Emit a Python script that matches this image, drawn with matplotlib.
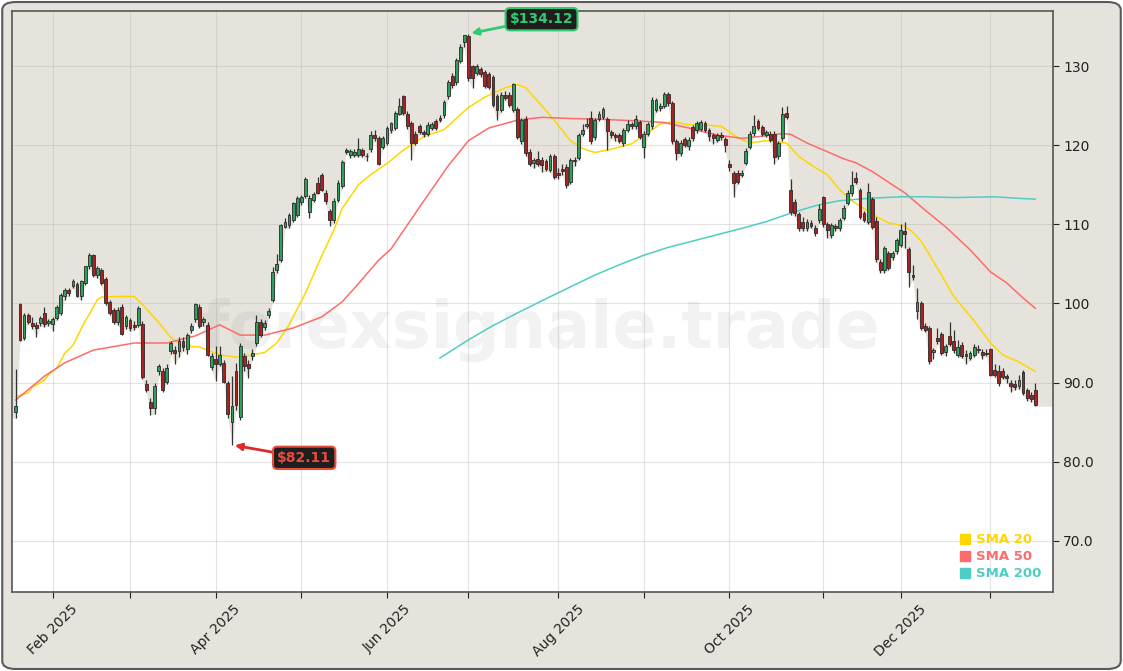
import numpy as np
import pandas as pd
import matplotlib
matplotlib.use("Agg")
import matplotlib.pyplot as plt
from matplotlib.lines import Line2D
from matplotlib.patches import FancyBboxPatch
from matplotlib.ticker import FuncFormatter

# trading days (NYSE calendar)
holidays = ["2025-02-17", "2025-04-18", "2025-05-26", "2025-06-19", "2025-07-04",
            "2025-09-01", "2025-11-27", "2025-12-25", "2026-01-01", "2026-01-19"]
dates = pd.bdate_range("2025-01-21", "2026-01-20", freq="C", holidays=holidays)

opens = [
    86.3, 99.95, 95.6, 98.55, 97.5, 97.3, 97.5, 98.85, 97.5, 97.35,
    98.15, 98.8, 100.9, 101.7, 102.2, 102.5, 100.9, 102.6, 104.7, 106.1,
    103.6, 104.2, 103.1, 100.2, 99.2, 97.7, 99.6, 97.2, 97.9, 97.3,
    97.3, 97.4, 89.85, 87.6, 86.8, 91.5, 91.4, 90.1, 94.05, 94.1,
    94.0, 95.3, 94.2, 96.7, 98.0, 99.5, 97.6, 97.3, 92.0, 93.0,
    92.4, 92.5, 89.9, 85.0, 91.4, 85.7, 93.3, 92.4, 93.3, 95.0,
    97.7, 97.0, 98.6, 100.5, 104.2, 105.5, 109.7, 109.9, 110.6, 111.2,
    112.9, 113.6, 111.6, 113.1, 115.3, 116.2, 114.0, 111.7, 110.5, 113.1,
    114.9, 119.4, 118.8, 118.8, 118.8, 119.4, 118.7, 119.5, 121.3, 120.9,
    119.8, 120.3, 121.9, 122.2, 124.0, 126.2, 124.0, 122.8, 121.5, 122.4,
    121.7, 121.5, 122.2, 123.1, 123.5, 123.8, 126.2, 128.8, 128.0, 130.7,
    133.1, 133.9, 130.0, 129.2, 129.65, 129.3, 129.0, 128.6, 126.2, 124.5,
    126.4, 126.4, 124.5, 124.55, 120.5, 123.4, 119.2, 117.8, 118.3, 118.2,
    118.0, 116.9, 118.6, 116.5, 117.0, 117.3, 115.4, 118.2, 118.4, 121.5,
    122.5, 123.5, 121.0, 123.4, 123.6, 123.35, 121.7, 121.3, 121.3, 120.3,
    122.0, 122.7, 122.4, 122.9, 119.75, 121.5, 122.4, 124.5, 124.7, 125.0,
    126.5, 125.3, 120.5, 119.0, 120.75, 119.9, 122.3, 121.9, 122.1, 122.8,
    121.9, 121.3, 120.7, 121.3, 120.75, 117.7, 116.5, 116.55, 116.3, 117.8,
    119.85, 121.6, 123.1, 122.3, 121.3, 121.5, 121.5, 118.6, 120.9, 124.05,
    114.4, 112.9, 111.3, 110.35, 109.5, 110.2, 109.6, 110.5, 113.5, 110.05,
    108.65, 109.8, 109.5, 110.8, 112.7, 113.95, 115.9, 114.3, 111.4, 110.35,
    113.2, 110.4, 105.3, 104.25, 106.4, 105.85, 106.6, 107.4, 109.2, 106.9,
    103.6, 99.1, 100.0, 97.2, 96.9, 93.9, 95.6, 96.1, 93.9, 95.95,
    95.2, 93.5, 94.8, 93.6, 93.1, 93.5, 94.3, 93.85, 93.7, 94.2,
    91.6, 91.5, 91.5, 90.8, 90.0, 89.85, 89.5, 91.3, 89.0, 88.45,
    89.0,
]
highs = [
    91.7, 100.1, 98.8, 98.8, 98.3, 97.6, 98.4, 99.5, 98.1, 98.3,
    99.8, 101.3, 101.9, 102.0, 103.1, 102.7, 103.0, 104.8, 106.4, 106.3,
    104.8, 104.5, 103.3, 100.5, 99.4, 99.6, 99.9, 98.6, 98.2, 97.8,
    99.7, 97.8, 90.3, 88.0, 89.9, 92.4, 91.8, 92.3, 95.3, 94.6,
    95.8, 95.7, 96.3, 97.5, 100.1, 99.9, 98.3, 97.6, 93.7, 94.6,
    94.6, 92.9, 90.2, 90.8, 92.5, 95.0, 93.8, 92.8, 94.2, 98.6,
    98.0, 97.9, 99.4, 104.6, 106.2, 110.0, 110.8, 111.4, 112.9, 113.6,
    113.7, 116.0, 113.7, 114.1, 116.0, 116.5, 114.3, 112.0, 113.3, 115.6,
    118.2, 119.7, 119.6, 119.5, 120.9, 119.7, 119.0, 121.8, 121.9, 121.2,
    121.2, 122.4, 123.0, 124.3, 126.0, 126.4, 124.3, 123.1, 121.8, 122.7,
    122.0, 122.9, 123.0, 123.4, 123.8, 125.8, 128.3, 129.1, 131.0, 132.8,
    134.0, 134.12, 130.2, 130.3, 129.9, 129.6, 129.3, 128.9, 126.5, 126.7,
    126.9, 126.7, 127.9, 124.8, 123.5, 123.7, 119.5, 118.4, 119.3, 118.5,
    118.3, 118.9, 118.9, 117.2, 117.7, 117.6, 118.4, 118.5, 121.6, 122.7,
    123.5, 124.3, 123.5, 124.4, 124.9, 123.6, 122.0, 121.6, 121.6, 122.2,
    123.2, 123.0, 123.9, 123.2, 121.8, 123.0, 126.1, 126.0, 125.3, 126.8,
    126.8, 125.6, 120.8, 120.7, 121.1, 121.0, 122.6, 123.1, 123.2, 123.1,
    122.2, 121.6, 121.6, 121.7, 121.1, 118.2, 116.8, 116.9, 116.9, 119.7,
    121.8, 123.9, 123.4, 122.6, 122.0, 121.8, 121.8, 120.6, 124.8, 124.97,
    115.8, 113.2, 111.6, 110.9, 110.7, 110.5, 109.9, 112.6, 113.6, 110.3,
    110.2, 110.1, 110.8, 112.4, 114.3, 116.7, 116.6, 114.6, 111.7, 115.3,
    113.5, 111.0, 105.6, 107.3, 106.7, 106.7, 108.3, 110.0, 110.3, 107.2,
    104.9, 101.9, 100.3, 97.5, 97.2, 94.4, 96.9, 96.4, 94.9, 97.6,
    96.6, 95.4, 95.1, 94.1, 94.0, 94.9, 94.7, 94.2, 94.2, 94.4,
    92.3, 92.2, 91.8, 91.1, 90.3, 90.3, 91.0, 91.6, 89.3, 88.8,
    89.9,
]
lows = [
    85.5, 95.2, 95.4, 97.4, 96.8, 95.8, 97.1, 97.0, 97.2, 96.5,
    97.9, 98.5, 100.5, 101.0, 102.0, 100.8, 100.4, 102.3, 104.4, 103.4,
    103.2, 102.3, 99.8, 98.5, 97.4, 97.3, 96.0, 96.8, 96.5, 96.6,
    97.0, 90.5, 88.8, 85.9, 86.0, 91.0, 88.8, 89.8, 93.6, 92.4,
    93.2, 94.0, 93.6, 96.3, 97.6, 96.9, 97.2, 93.3, 91.6, 90.2,
    92.1, 89.9, 85.5, 82.11, 86.5, 85.3, 91.5, 90.6, 92.9, 94.6,
    95.7, 96.6, 98.2, 100.2, 103.9, 105.2, 109.5, 109.5, 110.3, 110.9,
    112.5, 113.3, 110.8, 112.8, 113.8, 114.2, 112.6, 109.8, 110.2, 112.8,
    114.6, 118.9, 118.4, 118.5, 118.5, 118.5, 118.0, 119.2, 120.6, 117.5,
    119.5, 120.0, 121.6, 121.9, 123.8, 123.8, 122.1, 118.1, 120.0, 121.4,
    121.1, 121.2, 121.9, 121.9, 122.9, 123.5, 125.9, 127.3, 127.7, 130.4,
    132.4, 128.2, 127.2, 128.9, 128.7, 127.2, 127.1, 124.8, 123.2, 124.2,
    125.7, 124.8, 124.2, 120.8, 120.2, 118.7, 117.4, 117.1, 117.4, 116.6,
    116.7, 116.6, 115.7, 115.8, 116.2, 114.6, 115.1, 117.4, 118.1, 121.2,
    122.2, 120.2, 120.7, 123.1, 123.3, 119.4, 120.9, 120.5, 120.3, 119.9,
    121.7, 122.1, 122.1, 120.8, 118.4, 121.2, 122.1, 124.2, 124.4, 124.7,
    125.0, 120.2, 118.2, 118.7, 119.8, 119.4, 120.6, 121.6, 121.8, 121.7,
    120.6, 120.2, 120.4, 120.7, 119.2, 116.8, 113.5, 115.1, 116.0, 117.5,
    119.5, 121.2, 121.9, 121.2, 121.0, 120.4, 117.7, 118.3, 120.6, 123.3,
    111.2, 111.1, 109.2, 109.2, 109.2, 109.5, 108.6, 110.2, 109.7, 108.3,
    108.3, 109.2, 109.2, 110.5, 112.4, 113.6, 115.1, 110.7, 110.3, 110.0,
    109.4, 105.2, 103.9, 103.9, 104.2, 105.5, 106.3, 107.1, 107.0, 102.1,
    103.0, 98.0, 96.6, 96.4, 92.4, 93.0, 94.9, 93.5, 93.4, 94.6,
    93.8, 93.2, 93.1, 92.4, 92.8, 93.2, 93.8, 93.0, 93.3, 90.8,
    90.7, 89.6, 90.4, 89.9, 88.8, 89.1, 89.2, 88.4, 87.7, 87.6,
    87.0,
]
closes = [
    87.05, 95.4, 98.55, 97.7, 97.2, 96.9, 98.2, 97.4, 97.8, 98.0,
    99.6, 101.1, 101.7, 101.3, 102.9, 101.0, 102.8, 104.7, 106.1, 103.6,
    104.45, 102.6, 100.0, 98.8, 97.7, 99.2, 96.2, 98.3, 96.9, 97.0,
    99.4, 90.7, 89.1, 86.8, 89.6, 92.1, 89.0, 91.9, 95.05, 93.7,
    95.3, 94.5, 96.0, 97.1, 99.9, 97.2, 98.0, 93.5, 93.4, 92.3,
    93.5, 90.1, 86.0, 87.0, 87.1, 94.6, 92.1, 91.9, 93.7, 97.7,
    96.0, 97.5, 99.0, 104.0, 105.0, 109.9, 110.35, 111.2, 112.75, 113.4,
    113.5, 115.7, 113.4, 113.9, 114.0, 114.4, 113.0, 110.5, 113.0, 115.3,
    117.9, 119.2, 119.3, 119.2, 119.5, 118.8, 118.6, 121.3, 120.9, 117.7,
    120.9, 122.2, 122.8, 124.05, 125.0, 124.05, 122.4, 120.35, 120.3, 121.7,
    121.4, 122.6, 122.7, 122.2, 123.2, 125.5, 128.0, 127.6, 130.8, 132.5,
    133.95, 128.5, 128.5, 130.0, 129.0, 127.5, 127.4, 125.1, 124.5, 126.4,
    126.0, 125.1, 127.8, 121.1, 123.2, 119.0, 117.7, 118.1, 117.7, 117.5,
    117.0, 118.6, 116.0, 116.3, 116.8, 115.0, 118.1, 118.0, 121.3, 121.95,
    122.7, 120.5, 123.2, 124.0, 124.55, 121.85, 121.3, 121.1, 120.6, 121.95,
    122.7, 122.4, 123.35, 121.1, 121.5, 122.7, 125.8, 125.7, 125.0, 126.5,
    125.3, 120.5, 119.0, 120.35, 120.1, 120.7, 120.9, 122.8, 122.9, 122.0,
    121.2, 120.9, 121.3, 121.0, 120.0, 117.3, 115.2, 115.4, 116.55, 119.35,
    121.5, 122.4, 122.15, 121.5, 121.7, 120.7, 118.5, 120.25, 124.0, 123.6,
    111.6, 111.4, 109.5, 109.5, 110.35, 109.8, 108.95, 111.9, 110.0, 109.3,
    109.9, 109.5, 110.5, 112.05, 113.95, 115.0, 115.4, 111.0, 110.6, 114.15,
    109.7, 105.6, 104.25, 107.0, 104.5, 106.4, 108.0, 109.3, 108.8, 104.0,
    103.3, 100.25, 96.9, 96.7, 92.7, 94.1, 95.2, 93.8, 94.6, 94.85,
    94.1, 94.55, 93.4, 93.4, 93.7, 94.55, 94.1, 93.5, 93.6, 91.0,
    91.0, 89.9, 90.7, 90.55, 89.5, 89.4, 90.3, 88.65, 88.0, 87.9,
    87.2,
]

# moving averages (candle index, value)
sma20_idx = [0, 3, 4, 7, 8, 10, 12, 14, 17, 18, 20, 21, 25, 29, 31, 35, 38, 41, 45, 50,
             54, 58, 61, 64, 67, 71, 75, 78, 80, 84, 87, 91, 95, 100, 105, 108, 111, 115, 120, 123,
             125, 129, 132, 136, 139, 142, 146, 151, 155, 158, 161, 165, 169, 173, 177, 180, 184, 189, 192, 196,
             199, 202, 205, 208, 211, 214, 218, 220, 222, 224, 227, 230, 235, 239, 242, 246, 250]
sma20_val = [88.2, 88.7, 89.4, 90.3, 91.0, 91.8, 93.7, 94.7, 97.8, 98.6, 100.5, 100.8, 100.9, 100.9, 99.9, 97.6, 95.7, 94.6, 94.5, 93.5,
             93.2, 93.5, 93.8, 95.0, 97.3, 101.3, 106.0, 109.3, 112.0, 115.0, 116.3, 117.7, 119.4, 121.1, 122.0, 123.4, 124.8, 126.1, 127.3, 127.7,
             127.3, 125.0, 123.2, 120.6, 119.6, 119.1, 119.5, 120.2, 121.6, 122.7, 123.0, 122.6, 122.6, 122.4, 121.0, 120.3, 120.6, 120.3, 118.6, 117.2,
             116.3, 114.4, 113.0, 112.0, 111.0, 110.2, 109.8, 109.0, 107.9, 106.2, 103.6, 100.9, 97.8, 95.0, 93.5, 92.6, 91.4]
sma50_idx = [0, 7, 12, 19, 29, 37, 44, 50, 55, 61, 68, 75, 80, 84, 89, 92, 99, 106, 111, 116,
             123, 129, 136, 144, 152, 159, 165, 172, 178, 182, 188, 190, 194, 199, 203, 206, 210, 215, 218, 223,
             228, 234, 239, 243, 247, 250]
sma50_val = [87.8, 90.8, 92.5, 94.1, 95.0, 95.0, 95.9, 97.3, 96.0, 96.0, 96.9, 98.3, 100.2, 102.5, 105.5, 106.9, 112.2, 117.4, 120.6, 122.2,
             123.2, 123.55, 123.4, 123.3, 123.1, 122.9, 122.2, 121.3, 120.9, 121.1, 121.5, 121.4, 120.3, 119.2, 118.3, 117.8, 116.7, 115.0, 114.0, 111.8,
             109.7, 106.8, 104.0, 102.6, 100.7, 99.4]
sma200_idx = [104, 111, 117, 123, 130, 136, 142, 148, 154, 160, 166, 172, 178, 184, 191, 197, 202, 209, 217, 223,
              230, 240, 246, 250]
sma200_val = [93.1, 95.4, 97.2, 98.8, 100.6, 102.1, 103.6, 104.9, 106.1, 107.1, 107.9, 108.7, 109.5, 110.35, 111.6, 112.5, 113.0, 113.3, 113.5, 113.5,
              113.4, 113.5, 113.3, 113.2]

BG = "#e6e3dc"
UP = "#2ea05c"
DOWN = "#a82222"
C20, C50, C200 = "#FFD700", "#FF6B6B", "#4ECDC4"

n = len(dates)
x = np.arange(n)
o = np.array(opens)
h = np.array(highs)
l = np.array(lows)
c = np.array(closes)

fig = plt.figure(figsize=(11.23, 6.71), dpi=100)
fig.patch.set_facecolor("white")
fig.add_artist(FancyBboxPatch((0.002, 0.003), 0.996, 0.994,
                              boxstyle="round,pad=0,rounding_size=0.012",
                              transform=fig.transFigure, facecolor=BG,
                              edgecolor="#5a5a5a", lw=1.5, zorder=-10))

ax = fig.add_axes([0.0105, 0.1177, 0.927, 0.8659])
ax.set_facecolor("white")
x0, x1 = -1, n + 3.3
ymin, ymax = 63.5, 137.0

# shaded area above the lows
xf = np.concatenate([[x0], x, [x1]])
lf = np.concatenate([[l[0]], l, [l[-1]]])
ax.fill_between(xf, lf, ymax, color=BG, lw=0, zorder=0.4)

ax.text(0.508, 0.452, "forexsignale.trade", transform=ax.transAxes,
        fontsize=47, fontweight="bold", color="gray", alpha=0.1,
        ha="center", va="center", zorder=1)

# candles
up = c >= o
cols = np.where(up, UP, DOWN)
ax.vlines(x, l, h, color="#333333", lw=0.9, zorder=3)
ax.bar(x, np.maximum(np.abs(c - o), 0.12), bottom=np.minimum(o, c), width=0.7,
       color=cols, edgecolor="#2a2a2a", lw=0.6, zorder=4)

ax.plot(sma20_idx, sma20_val, color=C20, lw=1.1, zorder=2.5)
ax.plot(sma50_idx, sma50_val, color=C50, lw=1.1, zorder=2.5)
ax.plot(sma200_idx, sma200_val, color=C200, lw=1.1, zorder=2.5)

# high / low labels
imax = int(np.argmax(h))
imin = int(np.argmin(l))
ax.annotate("\\$%.2f" % h[imax], xy=(imax, h[imax]), xytext=(52.6, 10.5),
            textcoords="offset points", ha="center", va="center",
            fontsize=10, fontweight="bold", color="#2ecc71",
            bbox=dict(boxstyle="round,pad=0.3", fc="#1e1e1e", ec="#2ecc71", lw=1.5),
            arrowprops=dict(arrowstyle="-|>", color="#2ecc71", lw=2, shrinkA=0, shrinkB=2),
            zorder=10)
ax.annotate("\\$%.2f" % l[imin], xy=(imin, l[imin]), xytext=(52, -9.3),
            textcoords="offset points", ha="center", va="center",
            fontsize=10, fontweight="bold", color="#e74c3c",
            bbox=dict(boxstyle="round,pad=0.3", fc="#1e1e1e", ec="#e74c3c", lw=1.5),
            arrowprops=dict(arrowstyle="-|>", color="#e02828", lw=2, shrinkA=0, shrinkB=2),
            zorder=10)

ax.set_xlim(x0, x1)
ax.set_ylim(ymin, ymax)

# month ticks, label every other month
months = dates.month
tick_pos = [i for i in range(1, n) if months[i] != months[i - 1]]
tick_lab = [dates[i].strftime("%b %Y") if dates[i].month % 2 == 0 else "" for i in tick_pos]
ax.set_xticks(tick_pos)
ax.set_xticklabels(tick_lab, rotation=45)

ax.yaxis.tick_right()
ax.yaxis.set_major_formatter(FuncFormatter(lambda v, _: f"{v:.0f}" if v >= 100 else f"{v:.1f}"))
ax.tick_params(axis="both", labelsize=10, colors="#222222", length=4)
ax.grid(True, color="#b0b0b0", alpha=0.35, lw=0.8)
ax.set_axisbelow(True)
for s in ax.spines.values():
    s.set_color("#555555")
    s.set_linewidth(1.2)

handles = [Line2D([], [], ls="none", marker="s", markersize=7, color=col) for col in (C20, C50, C200)]
ax.legend(handles, ["SMA 20", "SMA 50", "SMA 200"], loc="lower right", frameon=False,
          prop={"weight": "bold", "size": 9.5}, labelcolor=[C20, C50, C200],
          handlelength=0.8, handletextpad=0.4, labelspacing=0.3)

fig.savefig("out.png", dpi=100, facecolor=fig.get_facecolor())
